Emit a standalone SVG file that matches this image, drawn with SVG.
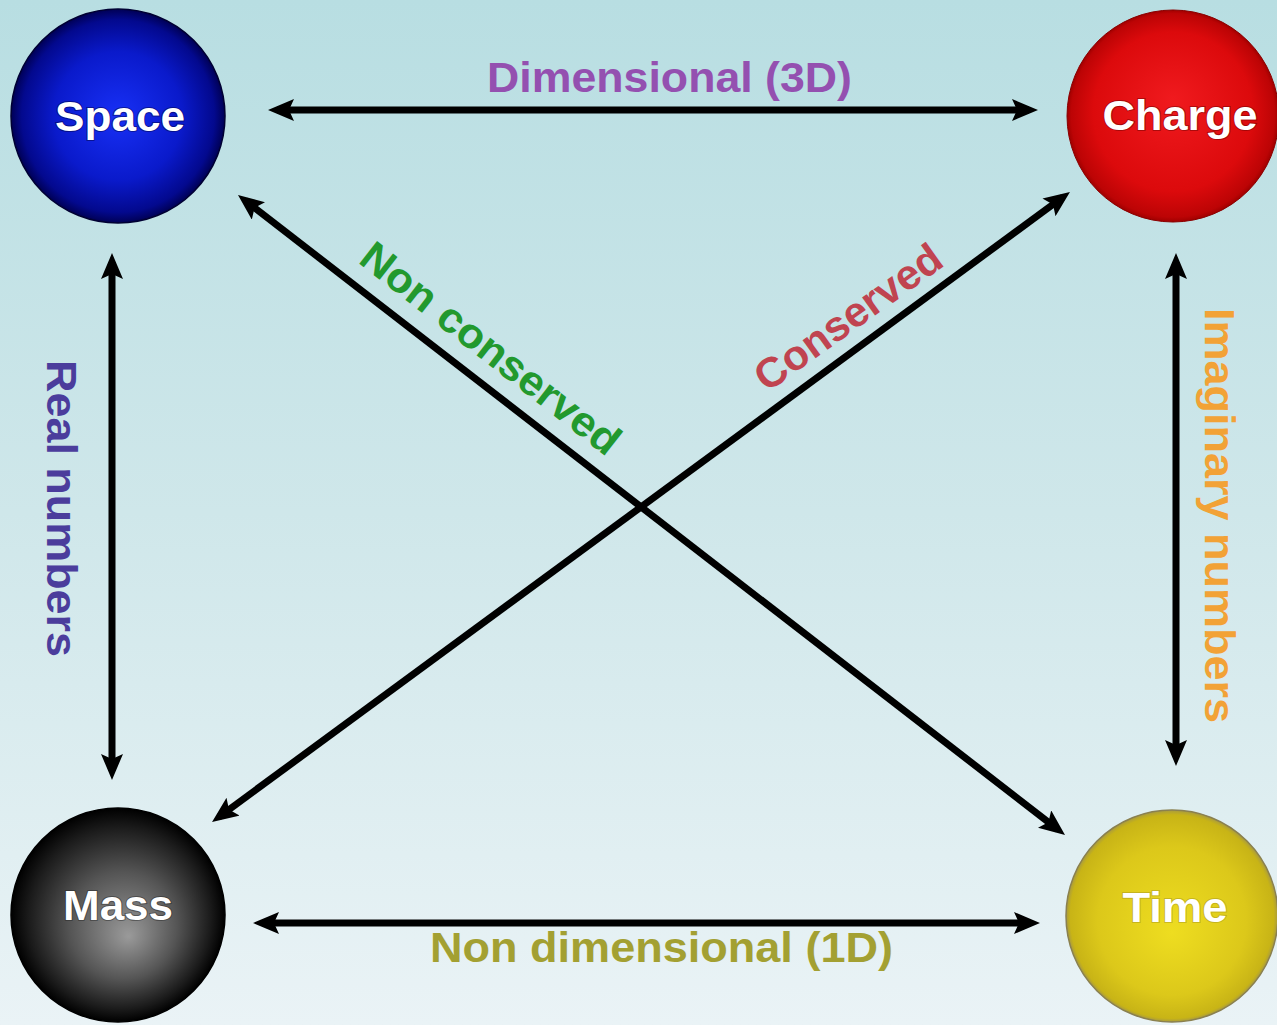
<svg xmlns="http://www.w3.org/2000/svg" width="1277" height="1025" viewBox="0 0 1277 1025">
<defs>
<linearGradient id="bg" x1="0" y1="0" x2="0" y2="1">
<stop offset="0" stop-color="#b8dee2"/>
<stop offset="0.5" stop-color="#cfe7ea"/>
<stop offset="1" stop-color="#eaf3f6"/>
</linearGradient>
<radialGradient id="gSpace" cx="0.5" cy="0.5" r="0.5">
<stop offset="0" stop-color="#1830f6"/>
<stop offset="0.6" stop-color="#0a1acb"/>
<stop offset="0.9" stop-color="#03098e"/>
<stop offset="1" stop-color="#000055"/>
</radialGradient>
<radialGradient id="gCharge" cx="0.5" cy="0.5" r="0.5" fx="0.5" fy="0.42">
<stop offset="0" stop-color="#f01a1e"/>
<stop offset="0.75" stop-color="#dc0a0c"/>
<stop offset="0.96" stop-color="#bc0405"/>
<stop offset="1" stop-color="#a00000"/>
</radialGradient>
<radialGradient id="gMass" cx="0.5" cy="0.5" r="0.5" fx="0.55" fy="0.6">
<stop offset="0" stop-color="#9a9a9a"/>
<stop offset="0.5" stop-color="#555555"/>
<stop offset="0.85" stop-color="#1b1b1b"/>
<stop offset="1" stop-color="#000000"/>
</radialGradient>
<radialGradient id="gTime" cx="0.5" cy="0.5" r="0.5" fx="0.5" fy="0.58">
<stop offset="0" stop-color="#eedd20"/>
<stop offset="0.7" stop-color="#dcc81a"/>
<stop offset="0.96" stop-color="#c8b416"/>
<stop offset="1" stop-color="#a89a40"/>
</radialGradient>
<marker id="ah" viewBox="0 0 26 22" refX="17" refY="11" markerWidth="26" markerHeight="22" markerUnits="userSpaceOnUse" orient="auto-start-reverse">
<path d="M0,0 L26,11 L0,22 L5,11 z" fill="#000"/>
</marker>
<style>
.lbl{font-family:"Liberation Sans",Arial,sans-serif;font-weight:bold;font-size:42px}
.node{font-family:"Liberation Sans",Arial,sans-serif;font-weight:bold;font-size:42px;fill:#fff;text-anchor:middle;stroke-opacity:0.45;stroke-width:2;paint-order:stroke}
.conn{stroke:#000;stroke-width:7;fill:none;marker-start:url(#ah);marker-end:url(#ah)}
</style>
</defs>
<rect x="0" y="0" width="1277" height="1025" fill="url(#bg)"/>
<g id="connectors">
<line class="conn" x1="277" y1="110" x2="1029" y2="110"/>
<line class="conn" x1="262" y1="923" x2="1031" y2="923"/>
<line class="conn" x1="112" y1="262" x2="112" y2="771"/>
<line class="conn" x1="1176" y1="262" x2="1176" y2="757"/>
<line class="conn" x1="245.1" y1="200.5" x2="1057.9" y2="829.5"/>
<line class="conn" x1="219.3" y1="816.7" x2="1062.7" y2="197.3"/>
</g>
<g id="labels">
<text class="lbl" x="487" y="92" fill="#9450b0" textLength="365" lengthAdjust="spacingAndGlyphs">Dimensional (3D)</text>
<text class="lbl" x="430" y="962" fill="#a3a032" textLength="463" lengthAdjust="spacingAndGlyphs">Non dimensional (1D)</text>
<text class="lbl" transform="translate(47,360) rotate(90)" fill="#4b3d9c" textLength="297" lengthAdjust="spacingAndGlyphs">Real numbers</text>
<text class="lbl" transform="translate(1205,308) rotate(90)" fill="#f2a236" textLength="415" lengthAdjust="spacingAndGlyphs">Imaginary numbers</text>
<text class="lbl" transform="translate(357,262) rotate(38)" fill="#22992e" textLength="317" lengthAdjust="spacingAndGlyphs">Non conserved</text>
<text class="lbl" transform="translate(767,393) rotate(-35.6)" fill="#c04450" textLength="220" lengthAdjust="spacingAndGlyphs">Conserved</text>
</g>
<g id="node-space">
<circle cx="118" cy="116" r="107" fill="url(#gSpace)" stroke="#000033" stroke-width="1.5"/>
<text class="node" x="120" y="131" stroke="#000033" textLength="130" lengthAdjust="spacingAndGlyphs">Space</text>
</g>
<g id="node-charge">
<circle cx="1173" cy="116" r="106" fill="url(#gCharge)" stroke="#8a0000" stroke-width="1"/>
<text class="node" x="1180" y="130" stroke="#600000" textLength="155" lengthAdjust="spacingAndGlyphs">Charge</text>
</g>
<g id="node-mass">
<circle cx="118" cy="915" r="107" fill="url(#gMass)" stroke="#000" stroke-width="1.5"/>
<text class="node" x="118" y="920" stroke="#222" textLength="110" lengthAdjust="spacingAndGlyphs">Mass</text>
</g>
<g id="node-time">
<circle cx="1172" cy="916" r="106" fill="url(#gTime)" stroke="#8a8050" stroke-width="1.5"/>
<text class="node" x="1175" y="922" stroke="#a09020" textLength="105" lengthAdjust="spacingAndGlyphs">Time</text>
</g>
</svg>
